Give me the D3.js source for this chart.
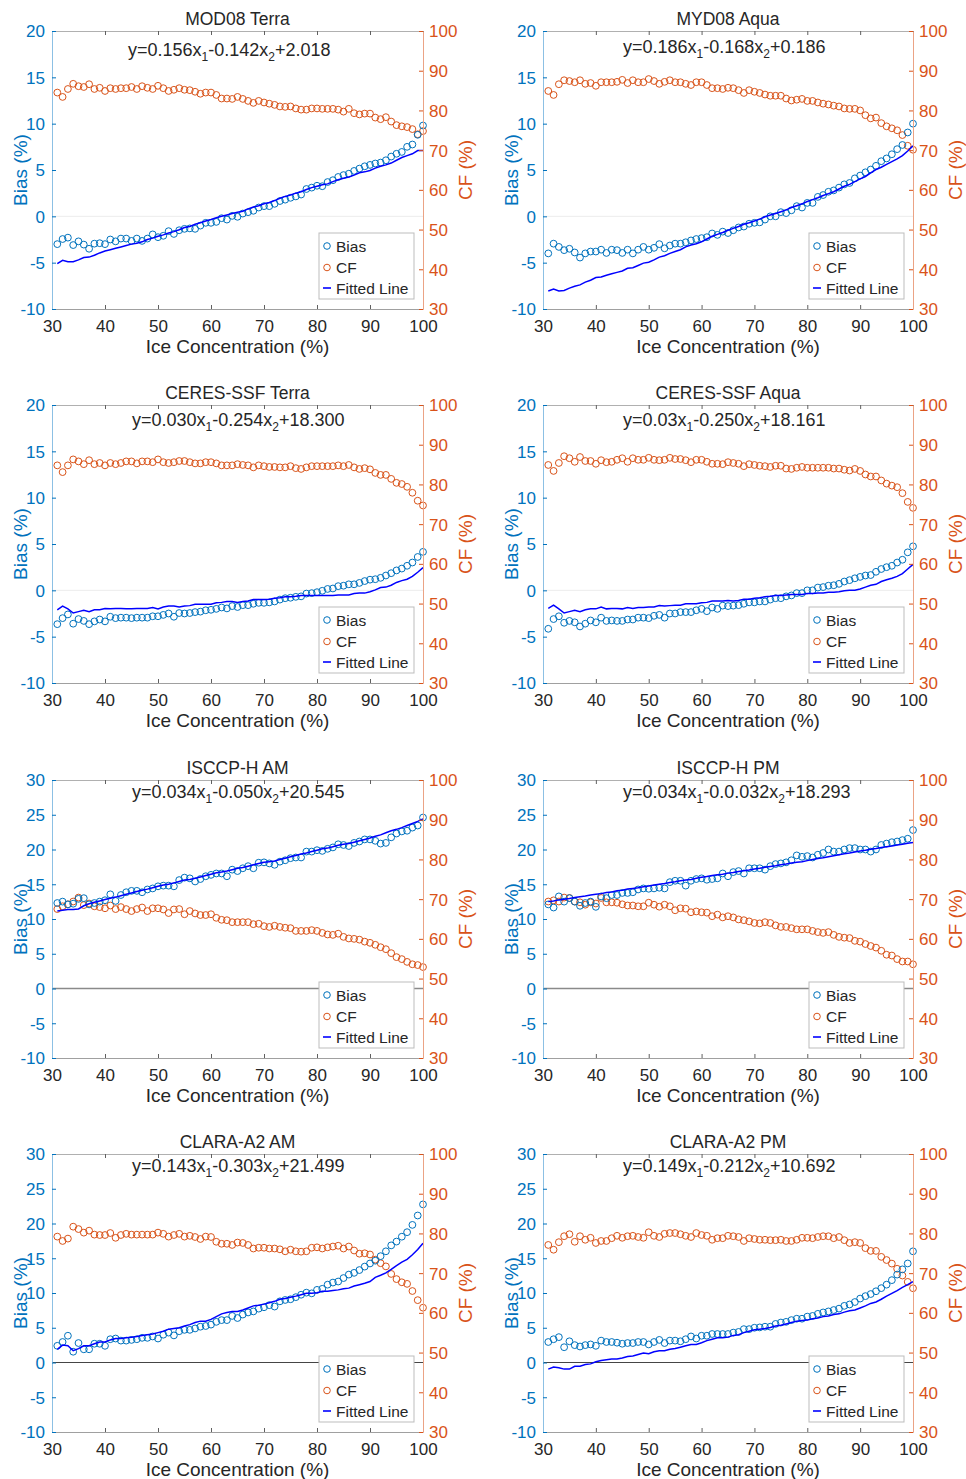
<!DOCTYPE html>
<html>
<head>
<meta charset="utf-8">
<script src="https://d3js.org/d3.v7.min.js"></script>
<style>
body { margin: 0; background: #fff; }
text { font-family: "Liberation Sans", Arial, Helvetica, sans-serif; }
</style>
</head>
<body>
<svg id="chart" width="966" height="1479"></svg>
<script>
// x positions (ice concentration, %)
var iceConc = [31,32,33,34,35,36,37,38,39,40,
  41,42,43,44,45,46,47,48,49,50,
  51,52,53,54,55,56,57,58,59,60,
  61,62,63,64,65,66,67,68,69,70,
  71,72,73,74,75,76,77,78,79,80,
  81,82,83,84,85,86,87,88,89,90,
  91,92,93,94,95,96,97,98,99,100];

var xTicks = [30,40,50,60,70,80,90,100];
var cfTicks = [30,40,50,60,70,80,90,100];
var biasTicksLow = [-10,-5,0,5,10,15,20];
var biasTicksHigh = [-10,-5,0,5,10,15,20,25,30];

var panelTitles = ["MOD08 Terra","MYD08 Aqua","CERES-SSF Terra","CERES-SSF Aqua",
  "ISCCP-H AM","ISCCP-H PM","CLARA-A2 AM","CLARA-A2 PM"];

// equation pieces: text, subscript, text, subscript, text
var equations = [
  ["y=0.156x","1","-0.142x","2","+2.018"],
  ["y=0.186x","1","-0.168x","2","+0.186"],
  ["y=0.030x","1","-0.254x","2","+18.300"],
  ["y=0.03x","1","-0.250x","2","+18.161"],
  ["y=0.034x","1","-0.050x","2","+20.545"],
  ["y=0.034x","1","-0.0.032x","2","+18.293"],
  ["y=0.143x","1","-0.303x","2","+21.499"],
  ["y=0.149x","1","-0.212x","2","+10.692"]
];

var mod08TerraBias = [-3.0,-2.45,-2.3,-3.1,-2.7,-3.05,-3.5,-2.95,-2.9,-3.0,
  -2.5,-2.7,-2.4,-2.4,-2.65,-2.4,-2.65,-2.4,-1.95,-2.25,
  -2.1,-1.6,-1.9,-1.5,-1.35,-1.3,-1.35,-1.0,-0.7,-0.7,
  -0.6,-0.2,-0.35,0.05,-0.05,0.3,0.45,0.6,0.95,1.1,
  1.1,1.35,1.65,1.8,2.0,2.15,2.35,2.95,3.1,3.3,
  3.25,3.7,3.9,4.25,4.45,4.6,4.9,5.15,5.4,5.55,
  5.7,5.8,6.05,6.45,6.75,6.95,7.5,7.75,8.8,9.8];
var mod08TerraCF = [84.5,83.4,85.4,86.7,86.1,85.9,86.6,85.4,85.7,84.9,
  85.6,85.4,85.6,85.6,85.9,85.4,86.1,85.7,85.4,86.2,
  85.6,84.9,85.2,85.6,85.2,85.1,84.7,84.2,84.5,84.5,
  83.9,83.0,83.0,82.9,83.4,82.9,82.4,81.9,82.4,82.0,
  81.7,81.4,81.0,80.9,81.0,80.5,80.2,80.2,80.5,80.5,
  80.4,80.4,80.4,80.2,79.7,80.4,79.3,79.0,79.2,79.2,
  78.2,77.8,78.3,77.2,76.3,76.0,75.8,75.3,74.0,74.8];
var mod08TerraFit = [-5.1,-4.75,-4.9,-4.9,-4.7,-4.45,-4.4,-4.2,-3.95,-3.75,
  -3.6,-3.45,-3.3,-3.15,-3.0,-2.9,-2.75,-2.5,-2.35,-2.15,
  -2.0,-1.8,-1.65,-1.45,-1.2,-1.1,-0.85,-0.7,-0.5,-0.35,
  -0.15,0,0.15,0.3,0.45,0.55,0.8,1.0,1.15,1.35,
  1.5,1.7,1.95,2.15,2.3,2.5,2.65,2.9,3.1,3.25,
  3.4,3.5,3.75,3.95,4.1,4.25,4.45,4.7,4.8,4.95,
  5.2,5.4,5.55,5.75,6.05,6.35,6.55,6.75,7.1,7.1];

var myd08AquaBias = [-4.0,-2.95,-3.3,-3.65,-3.5,-3.9,-4.45,-4.0,-3.8,-3.8,
  -3.6,-3.95,-3.6,-3.65,-3.95,-3.6,-4.0,-3.6,-3.3,-3.6,
  -3.4,-3.0,-3.45,-3.15,-2.95,-2.95,-2.8,-2.6,-2.45,-2.35,
  -2.25,-1.85,-2.0,-1.65,-1.8,-1.5,-1.2,-1.1,-0.8,-0.7,
  -0.65,-0.35,0,0,0.45,0.35,0.65,1.1,0.95,1.45,
  1.45,2.1,2.3,2.65,2.8,3.1,3.45,3.6,4.1,4.4,
  4.75,5.05,5.45,5.95,6.25,6.7,7.25,7.7,9.05,10.0];
var myd08AquaCF = [84.9,83.9,86.6,87.6,87.4,87.1,87.6,86.7,86.9,86.2,
  87.1,87.1,87.1,87.2,87.7,86.9,87.6,87.1,87.1,87.9,
  87.4,86.7,87.2,87.6,87.1,87.1,86.7,86.4,87.1,87.1,
  86.4,85.6,85.6,85.4,85.7,85.6,85.1,84.4,85.1,84.7,
  84.4,84.0,83.7,83.7,83.7,83.0,82.5,82.7,82.9,82.4,
  82.4,82.0,81.7,81.5,81.2,81.0,80.5,80.4,80.4,80.0,
  78.8,78.0,78.2,76.8,76.0,75.5,75.0,73.8,71.1,70.1];
var myd08AquaFit = [-8.05,-7.85,-8.05,-8.0,-7.75,-7.55,-7.4,-7.1,-6.9,-6.6,
  -6.55,-6.35,-6.2,-6.05,-5.9,-5.6,-5.55,-5.3,-5.05,-4.95,
  -4.7,-4.4,-4.25,-4.0,-3.8,-3.6,-3.3,-3.1,-2.95,-2.75,
  -2.45,-2.15,-1.95,-1.75,-1.5,-1.3,-1.1,-0.85,-0.7,-0.5,
  -0.3,-0.05,0.15,0.3,0.5,0.7,0.95,1.15,1.35,1.6,
  1.8,2.0,2.25,2.45,2.65,2.95,3.25,3.45,3.75,4.05,
  4.3,4.7,5.05,5.3,5.6,5.9,6.2,6.55,7.05,7.6];

var ceresTerraBias = [-3.65,-3.0,-2.6,-3.6,-3.1,-3.3,-3.65,-3.35,-3.15,-3.35,
  -2.85,-3.0,-2.95,-2.95,-3.0,-2.95,-2.95,-2.95,-2.8,-2.8,
  -2.65,-2.5,-2.85,-2.45,-2.5,-2.45,-2.35,-2.3,-2.15,-2.1,
  -2.0,-1.85,-1.95,-1.7,-1.8,-1.6,-1.6,-1.45,-1.35,-1.35,
  -1.3,-1.2,-1.0,-0.85,-0.8,-0.7,-0.65,-0.35,-0.3,-0.2,
  -0.05,0.15,0.2,0.45,0.5,0.65,0.65,0.8,1.0,1.15,
  1.2,1.35,1.6,1.85,2.15,2.35,2.65,3.0,3.6,4.15];
var ceresTerraCF = [84.8,83.1,84.8,86.3,85.8,85.1,86.1,85.1,85.4,84.8,
  85.4,85.1,85.4,85.8,85.8,85.3,85.8,85.8,85.6,86.3,
  85.6,85.4,85.6,85.9,85.9,85.6,85.3,85.3,85.6,85.6,
  85.3,84.8,84.8,84.8,85.1,84.9,84.8,84.3,84.8,84.6,
  84.4,84.4,84.3,84.3,84.6,84.1,83.9,84.3,84.6,84.6,
  84.6,84.6,84.6,84.8,84.6,84.9,84.3,83.9,84.1,83.8,
  82.9,82.4,82.4,81.4,80.4,80.1,79.4,77.9,75.9,74.7];
var ceresTerraFit = [-2.1,-1.7,-2.0,-2.45,-2.3,-2.15,-2.3,-2.1,-2.1,-1.95,
  -2.0,-1.95,-1.95,-2.0,-2.0,-1.95,-1.95,-1.95,-1.85,-2.0,
  -1.8,-1.7,-1.7,-1.8,-1.7,-1.65,-1.5,-1.5,-1.5,-1.5,
  -1.35,-1.3,-1.2,-1.2,-1.3,-1.2,-1.15,-1.0,-1.0,-1.0,
  -0.95,-0.85,-0.8,-0.7,-0.7,-0.65,-0.55,-0.55,-0.55,-0.55,
  -0.55,-0.55,-0.55,-0.5,-0.5,-0.5,-0.35,-0.3,-0.3,-0.15,
  0.05,0.3,0.35,0.55,0.85,1.05,1.2,1.5,1.95,2.45];

var ceresAquaBias = [-4.15,-3.1,-2.8,-3.5,-3.3,-3.45,-3.9,-3.6,-3.25,-3.45,
  -2.95,-3.3,-3.25,-3.3,-3.3,-3.15,-3.15,-2.95,-2.95,-3.0,
  -2.75,-2.65,-2.95,-2.5,-2.5,-2.35,-2.35,-2.35,-2.15,-2.0,
  -2.25,-1.85,-2.0,-1.65,-1.7,-1.65,-1.6,-1.45,-1.3,-1.3,
  -1.2,-1.2,-1.0,-0.85,-0.85,-0.65,-0.55,-0.3,-0.3,0,
  0,0.3,0.35,0.5,0.55,0.7,0.95,1.1,1.3,1.45,
  1.6,1.65,2.0,2.3,2.5,2.65,3.0,3.3,4.1,4.75];
var ceresAquaCF = [84.9,83.4,85.4,87.1,86.6,85.7,86.9,85.9,85.9,85.2,
  86.1,85.6,85.7,86.2,86.6,85.7,86.6,86.2,86.2,86.7,
  86.2,86.1,86.2,86.7,86.4,86.4,86.1,85.6,86.2,86.2,
  85.7,85.2,85.2,85.1,85.6,85.4,85.2,84.6,85.1,84.9,
  84.7,84.6,84.4,84.7,84.7,84.0,83.9,84.2,84.4,84.2,
  84.2,84.2,84.2,84.2,84.0,84.0,83.7,83.5,83.9,83.4,
  82.5,82.0,82.0,81.0,80.2,79.7,79.3,77.8,75.6,74.1];
var ceresAquaFit = [-1.95,-1.6,-2.0,-2.45,-2.3,-2.15,-2.3,-2.1,-2.0,-2.0,
  -1.8,-2.0,-1.95,-1.95,-2.0,-1.85,-1.95,-1.85,-1.85,-1.8,
  -1.8,-1.65,-1.7,-1.65,-1.6,-1.6,-1.45,-1.45,-1.45,-1.35,
  -1.3,-1.15,-1.15,-1.15,-1.1,-1.15,-1.1,-0.95,-0.95,-0.85,
  -0.8,-0.7,-0.65,-0.55,-0.55,-0.5,-0.45,-0.45,-0.45,-0.35,
  -0.35,-0.3,-0.3,-0.2,-0.2,-0.15,-0.05,0,0,0.15,
  0.35,0.55,0.65,0.95,1.15,1.3,1.5,1.8,2.3,2.8];

var isccpAmBias = [12.3,12.5,12.1,12.2,12.9,13.0,12.1,12.3,12.5,12.7,
  13.55,12.6,13.45,13.85,14.05,14.05,13.85,14.25,14.4,14.7,
  14.8,14.8,14.7,15.6,15.95,15.85,15.4,15.75,16.15,16.35,
  16.55,16.55,16.15,17.1,16.9,17.3,17.6,17.3,18.1,18.15,
  18.0,17.8,18.25,18.45,18.75,18.85,18.85,19.7,19.7,19.9,
  19.8,20.1,20.3,20.75,20.65,20.5,20.95,21.15,21.45,21.45,
  21.25,20.85,20.95,21.75,22.3,22.6,22.7,23.15,23.45,24.6];
var isccpAmCF = [67.5,68.2,68.7,69.4,70.4,68.5,68.9,68.2,68.0,67.7,
  68.4,67.5,68.0,67.5,67.0,67.5,67.9,67.0,67.7,67.7,
  67.4,66.5,67.4,67.5,66.2,67.0,66.4,66.0,66.0,66.2,
  65.3,64.8,64.7,64.2,64.2,64.2,64.2,63.7,63.8,63.2,
  63.0,63.3,63.0,62.8,62.7,62.0,62.0,62.0,62.2,62.0,
  61.5,61.1,61.0,61.3,60.5,60.1,60.0,59.8,59.3,59.0,
  58.5,57.9,57.4,56.4,55.4,54.9,54.2,53.6,53.4,52.9];
var isccpAmFit = [11.15,11.25,11.35,11.35,11.45,11.9,12.2,12.4,12.6,12.8,
  13.0,13.15,13.35,13.55,13.75,13.95,14.15,14.3,14.5,14.7,
  14.9,15.0,15.2,15.4,15.6,15.7,15.85,16.05,16.25,16.45,
  16.65,16.75,16.9,17.1,17.3,17.4,17.6,17.8,18.0,18.15,
  18.25,18.35,18.55,18.75,18.95,19.15,19.35,19.5,19.7,19.9,
  20.1,20.2,20.4,20.6,20.75,20.85,21.05,21.25,21.45,21.65,
  21.9,22.1,22.4,22.7,22.9,23.15,23.45,23.75,24.05,24.4];

var isccpPmBias = [12.1,11.65,13.25,12.5,13.0,12.5,11.9,12.3,12.5,11.75,
  13.25,13.0,13.45,13.45,13.75,13.75,13.85,14.25,14.4,14.35,
  14.4,14.5,14.4,15.3,15.5,15.5,14.8,15.5,15.75,15.85,
  15.65,15.75,15.85,16.55,16.15,16.75,16.9,16.55,17.3,17.3,
  17.3,17.1,17.6,17.9,18.0,18.15,18.45,19.15,18.95,19.05,
  18.85,19.25,19.5,20.0,19.7,19.7,20.0,20.2,20.2,20.0,
  20.0,19.7,20.0,20.65,20.85,21.05,21.15,21.35,21.55,22.8];
var isccpPmCF = [69.4,69.7,69.4,70.4,70.3,69.4,69.2,68.6,69.2,68.9,
  70.3,69.2,69.2,69.1,68.7,68.4,68.4,68.2,68.2,69.1,
  68.6,68.1,68.6,68.2,67.2,67.7,67.6,66.7,66.9,66.7,
  66.6,65.7,66.1,65.4,65.7,65.4,64.9,64.7,64.4,64.0,
  63.9,64.2,64.0,63.4,63.0,63.0,62.7,62.4,62.4,62.4,
  62.0,61.7,61.5,61.7,61.0,60.5,60.3,60.2,59.5,59.3,
  58.7,58.2,57.8,57.0,56.0,55.8,54.9,54.3,54.3,53.6];
var isccpPmFit = [12.5,12.6,12.75,12.85,12.95,13.1,13.2,13.3,13.45,13.55,
  13.65,13.8,13.9,14.05,14.15,14.3,14.4,14.5,14.65,14.75,
  14.9,15.0,15.1,15.25,15.35,15.5,15.6,15.7,15.85,16.0,
  16.1,16.25,16.35,16.45,16.6,16.7,16.85,16.95,17.05,17.2,
  17.3,17.45,17.55,17.65,17.8,17.9,18.05,18.15,18.25,18.4,
  18.55,18.7,18.8,18.95,19.1,19.25,19.4,19.5,19.65,19.8,
  19.9,20.05,20.15,20.3,20.4,20.5,20.65,20.75,20.9,21.0];

var claraAmBias = [2.4,2.95,3.85,1.55,2.8,1.9,1.9,2.7,2.7,2.4,
  3.35,3.45,3.15,3.15,3.25,3.35,3.55,3.55,3.75,3.45,
  4.0,4.3,3.9,4.5,4.7,4.7,4.9,5.15,5.25,5.45,
  5.85,6.1,6.1,6.7,6.4,6.9,7.2,7.35,7.75,7.95,
  8.25,8.05,8.8,9.0,9.1,9.4,9.75,10.05,9.95,10.45,
  10.6,11.2,11.5,11.65,12.15,12.65,12.9,13.3,13.8,14.25,
  14.65,15.3,16.0,16.85,17.4,18.1,18.75,19.8,21.15,22.75];
var claraAmCF = [79.2,78.1,78.7,81.7,81.1,80.2,80.7,79.7,79.6,79.6,
  80.1,78.9,79.6,79.9,79.7,79.7,79.7,79.7,79.7,80.2,
  79.9,79.2,79.6,79.9,79.2,79.4,79.1,78.6,79.2,79.1,
  77.9,77.4,77.4,77.1,77.7,77.6,77.1,76.2,76.4,76.4,
  76.2,76.2,76.0,75.5,75.9,75.5,75.4,75.5,76.4,76.5,
  76.2,76.5,76.7,76.9,76.2,76.7,75.7,74.9,75.0,74.7,
  73.4,72.5,71.7,69.8,68.5,67.7,67.3,65.5,63.2,61.3];
var claraAmFit = [1.9,2.5,2.4,1.7,2.0,2.4,2.4,2.7,2.95,2.95,
  3.25,3.45,3.45,3.55,3.65,3.75,3.9,4.0,4.1,4.3,
  4.5,4.8,4.9,5.0,5.25,5.45,5.75,5.95,5.95,6.2,
  6.6,7.0,7.2,7.35,7.35,7.55,7.85,8.15,8.25,8.4,
  8.6,8.8,9.1,9.2,9.4,9.55,9.75,9.95,9.95,10.05,
  10.25,10.25,10.35,10.45,10.6,10.7,11.0,11.2,11.4,11.65,
  12.25,12.55,12.9,13.4,13.95,14.45,14.85,15.5,16.25,17.15];

var claraPmBias = [2.95,3.35,3.65,2.2,3.05,2.5,2.3,2.5,2.6,2.4,
  3.15,2.95,2.95,2.85,2.7,2.8,2.8,2.95,2.95,2.6,
  2.95,3.25,2.8,3.15,3.15,3.05,3.35,3.75,3.45,3.85,
  3.85,4.1,4.1,4.1,4.1,4.3,4.4,4.8,4.8,5.0,
  5.05,5.15,5.15,5.55,5.75,5.85,6.1,6.3,6.3,6.6,
  6.7,7.0,7.2,7.35,7.55,7.75,8.15,8.35,8.7,9.2,
  9.55,9.85,10.25,10.7,11.2,11.85,12.65,13.4,14.25,16.0];
var claraPmCF = [77.1,75.9,77.8,79.3,79.8,77.9,79.3,78.4,78.9,77.6,
  78.1,78.1,78.8,79.4,78.9,79.3,79.4,79.1,78.9,80.3,
  79.4,79.1,79.9,80.1,80.1,79.8,79.4,79.1,80.1,79.6,
  79.4,78.4,78.8,78.8,79.4,79.3,79.1,78.1,78.8,78.6,
  78.4,78.4,78.3,78.3,78.4,78.1,78.1,78.4,78.9,78.9,
  78.8,79.1,79.3,79.3,78.8,79.1,78.3,77.6,77.8,77.6,
  76.3,75.6,75.6,74.1,73.3,72.4,71.1,69.4,67.8,66.2];
var claraPmFit = [-0.95,-0.65,-0.75,-0.95,-0.95,-0.55,-0.55,-0.3,-0.2,0.1,
  0.3,0.4,0.5,0.5,0.65,0.85,0.95,1.15,1.35,1.25,
  1.55,1.7,1.7,1.9,2.0,2.2,2.4,2.6,2.6,2.85,
  3.15,3.35,3.55,3.55,3.65,3.9,4.0,4.3,4.5,4.7,
  4.8,4.9,5.05,5.25,5.35,5.55,5.75,5.95,6.05,6.1,
  6.3,6.4,6.6,6.7,6.9,7.0,7.25,7.45,7.55,7.85,
  8.15,8.5,8.7,9.1,9.55,9.95,10.35,10.8,11.2,11.65];

var biasSeries = [mod08TerraBias, myd08AquaBias, ceresTerraBias, ceresAquaBias,
  isccpAmBias, isccpPmBias, claraAmBias, claraPmBias];
var cfSeries = [mod08TerraCF, myd08AquaCF, ceresTerraCF, ceresAquaCF,
  isccpAmCF, isccpPmCF, claraAmCF, claraPmCF];
var fitSeries = [mod08TerraFit, myd08AquaFit, ceresTerraFit, ceresAquaFit,
  isccpAmFit, isccpPmFit, claraAmFit, claraPmFit];
var biasTickSets = [biasTicksLow, biasTicksLow, biasTicksLow, biasTicksLow,
  biasTicksHigh, biasTicksHigh, biasTicksHigh, biasTicksHigh];
var legendLabels = ["Bias", "CF", "Fitted Line"];

var svg = d3.select("svg#chart");
var blue = "#0072BD", orange = "#D95319", fitBlue = "#0000FF", ink = "#262626";
var colLeft = [52, 543], colWidth = [371, 370],
    rowTop = [31, 405, 780, 1154], plotH = 278;
var eqLeft = [76, 80, 80, 80, 80, 80, 80, 80],
    eqTop = [25, 22, 21, 21, 18, 18, 18, 18];
var zeroStyle = [["#ececec", 1], ["#ececec", 1], ["#8a8a8a", 1.3], ["#303030", 0.9]];
// plain hyphen for negatives, like the original figure
var plain = function(d) { return String(d); };

svg.append("rect").attr("width", 966).attr("height", 1479).attr("fill", "#fff");

panelTitles.forEach(function(title, i) {
  var col = i % 2, row = Math.floor(i / 2);
  var w = colWidth[col], h = plotH;
  var g = svg.append("g")
      .attr("transform", "translate(" + colLeft[col] + "," + rowTop[row] + ")");

  var x = d3.scaleLinear().domain([30, 100]).range([0, w]);
  var yB = d3.scaleLinear().domain(d3.extent(biasTickSets[i])).range([h, 0]);
  var yC = d3.scaleLinear().domain(d3.extent(cfTicks)).range([h, 0]);

  // zero line of the bias axis
  g.append("line")
      .attr("x1", 0).attr("x2", w)
      .attr("y1", yB(0)).attr("y2", yB(0))
      .attr("stroke", zeroStyle[row][0])
      .attr("stroke-width", zeroStyle[row][1]);

  var pts = iceConc.map(function(c, j) {
    return {c: c, bias: biasSeries[i][j], cf: cfSeries[i][j], fit: fitSeries[i][j]};
  });

  g.append("g").selectAll("circle")
    .data(pts)
    .join("circle")
      .attr("cx", function(d) { return x(d.c); })
      .attr("cy", function(d) { return yC(d.cf); })
      .attr("r", 3.4)
      .attr("fill", "none")
      .attr("stroke", orange)
      .attr("stroke-width", 1);

  g.append("g").selectAll("circle")
    .data(pts)
    .join("circle")
      .attr("cx", function(d) { return x(d.c); })
      .attr("cy", function(d) { return yB(d.bias); })
      .attr("r", 3.4)
      .attr("fill", "none")
      .attr("stroke", blue)
      .attr("stroke-width", 1);

  g.append("path")
      .datum(pts)
      .attr("fill", "none")
      .attr("stroke", fitBlue)
      .attr("stroke-width", 1.5)
      .attr("d", d3.line()
        .x(function(d) { return x(d.c); })
        .y(function(d) { return yB(d.fit); }));

  // axes, MATLAB style with inward ticks
  var top = g.append("g")
      .call(d3.axisTop(x).tickValues(xTicks).tickSizeInner(-4).tickSizeOuter(0).tickFormat(""));
  top.select(".domain").attr("stroke", "#b0b0b0");
  top.selectAll(".tick line").attr("stroke", "#606060");

  var bottom = g.append("g")
      .attr("transform", "translate(0," + h + ")")
      .call(d3.axisBottom(x).tickValues(xTicks).tickFormat(plain)
        .tickSizeInner(-4).tickSizeOuter(0).tickPadding(11));
  bottom.select(".domain").attr("stroke", "#a0a0a0");
  bottom.selectAll(".tick line").attr("stroke", "#606060");
  bottom.selectAll("text").attr("fill", ink).style("font-size", "17px");

  var left = g.append("g")
      .call(d3.axisLeft(yB).tickValues(biasTickSets[i]).tickFormat(plain)
        .tickSizeInner(-4).tickSizeOuter(0).tickPadding(7));
  left.select(".domain").attr("stroke", "#8cc0e4");
  left.selectAll(".tick line").attr("stroke", blue);
  left.selectAll("text").attr("fill", blue).attr("dy", "0.35em").style("font-size", "17px");

  var right = g.append("g")
      .attr("transform", "translate(" + w + ",0)")
      .call(d3.axisRight(yC).tickValues(cfTicks).tickFormat(plain)
        .tickSizeInner(-4).tickSizeOuter(0).tickPadding(6));
  right.select(".domain").attr("stroke", "#eba385");
  right.selectAll(".tick line").attr("stroke", orange);
  right.selectAll("text").attr("fill", orange).attr("dy", "0.35em").style("font-size", "17px");

  // titles and labels
  g.append("text")
      .attr("x", w / 2).attr("y", -6)
      .attr("text-anchor", "middle")
      .attr("fill", ink)
      .style("font-size", "17.5px")
      .text(title);

  var eq = g.append("text")
      .attr("x", eqLeft[i]).attr("y", eqTop[i])
      .attr("fill", ink)
      .style("font-size", "18px");
  equations[i].forEach(function(part, k) {
    var sub = k % 2 === 1;
    eq.append("tspan")
        .attr("dy", sub ? 5 : (k > 0 ? -5 : 0))
        .style("font-size", sub ? "12px" : "18px")
        .text(part);
  });

  g.append("text")
      .attr("x", w / 2).attr("y", h + 44)
      .attr("text-anchor", "middle")
      .attr("fill", ink)
      .style("font-size", "19px")
      .text("Ice Concentration (%)");

  g.append("text")
      .attr("transform", "translate(-25," + (h / 2) + ") rotate(-90)")
      .attr("text-anchor", "middle")
      .attr("fill", blue)
      .style("font-size", "19px")
      .text("Bias (%)");

  g.append("text")
      .attr("transform", "translate(" + (w + 49) + "," + (h / 2) + ") rotate(-90)")
      .attr("text-anchor", "middle")
      .attr("fill", orange)
      .style("font-size", "19px")
      .text("CF (%)");

  // legend
  var lg = g.append("g")
      .attr("transform", "translate(" + (w - 104) + "," + (h - 76) + ")");
  lg.append("rect")
      .attr("width", 95).attr("height", 66)
      .attr("fill", "#fff")
      .attr("stroke", "#bdbdbd")
      .attr("stroke-width", 1);
  var rowsY = [13, 34.5, 55];
  lg.append("circle").attr("cx", 8).attr("cy", rowsY[0]).attr("r", 3.3)
      .attr("fill", "none").attr("stroke", blue);
  lg.append("circle").attr("cx", 8).attr("cy", rowsY[1]).attr("r", 3.3)
      .attr("fill", "none").attr("stroke", orange);
  lg.append("line").attr("x1", 4).attr("x2", 12).attr("y1", rowsY[2]).attr("y2", rowsY[2])
      .attr("stroke", fitBlue).attr("stroke-width", 1.6);
  lg.selectAll("text.lab")
    .data(legendLabels)
    .join("text")
      .attr("class", "lab")
      .attr("x", 17)
      .attr("y", function(d, k) { return rowsY[k] + 5.5; })
      .attr("fill", ink)
      .style("font-size", "15.5px")
      .text(function(d) { return d; });
});
</script>
</body>
</html>
